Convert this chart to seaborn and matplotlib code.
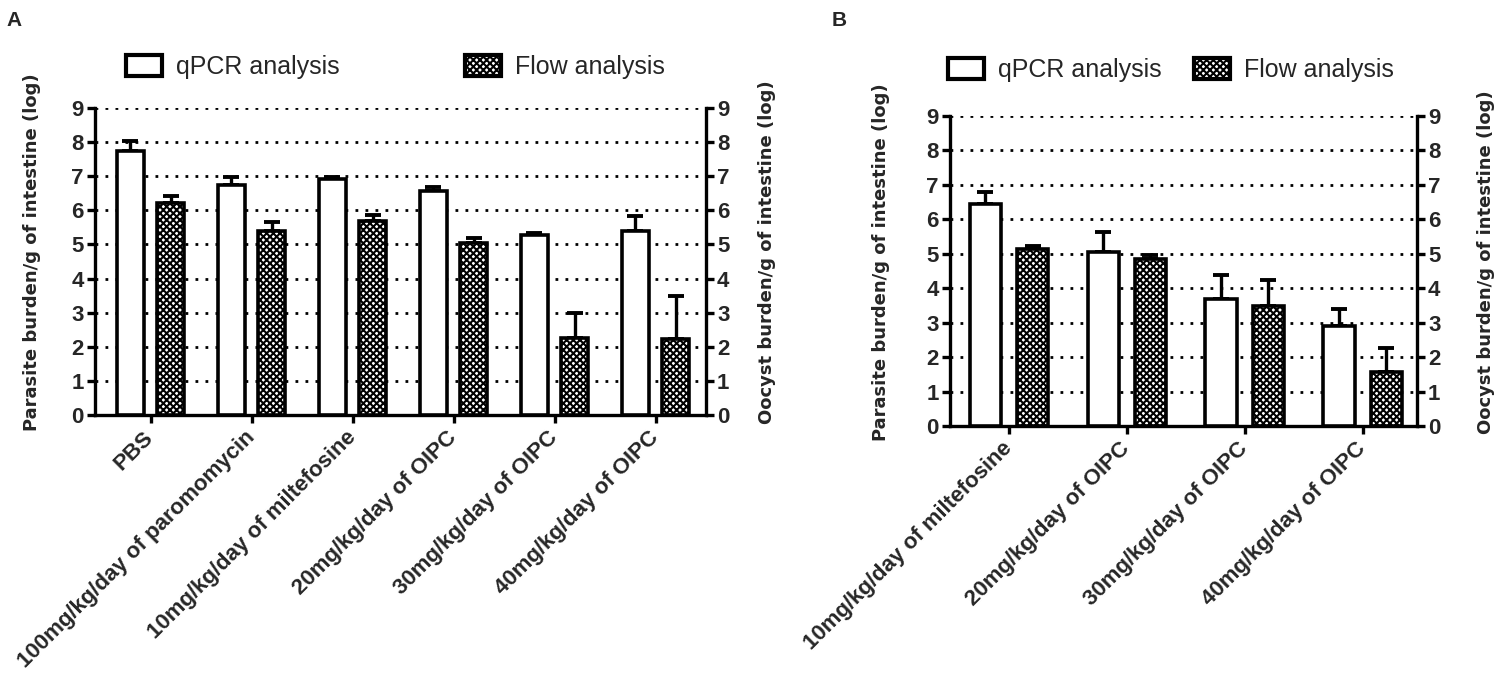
import numpy as np
import pandas as pd
import matplotlib
matplotlib.use("Agg")
import matplotlib.pyplot as plt
import seaborn as sns
from matplotlib.patches import Patch

sns.set_theme(style="white")
plt.rcParams['font.family'] = ['Liberation Sans', 'DejaVu Sans']
plt.rcParams['hatch.linewidth'] = 1.5

# ---------------- data ----------------
groups_a = ["PBS", "100mg/kg/day of paromomycin", "10mg/kg/day of miltefosine",
            "20mg/kg/day of OIPC", "30mg/kg/day of OIPC", "40mg/kg/day of OIPC"]
qpcr_a = [7.73, 6.73, 6.92, 6.58, 5.29, 5.39]
qpcr_a_err = [0.29, 0.25, 0.06, 0.09, 0.06, 0.43]
flow_a = [6.21, 5.40, 5.70, 5.04, 2.27, 2.23]
flow_a_err = [0.22, 0.26, 0.15, 0.15, 0.71, 1.27]

groups_b = ["10mg/kg/day of miltefosine", "20mg/kg/day of OIPC",
            "30mg/kg/day of OIPC", "40mg/kg/day of OIPC"]
qpcr_b = [6.45, 5.06, 3.70, 2.89]
qpcr_b_err = [0.35, 0.56, 0.69, 0.51]
flow_b = [5.15, 4.85, 3.47, 1.56]
flow_b_err = [0.09, 0.12, 0.76, 0.71]

methods = ["qPCR analysis", "Flow analysis"]
yticks = list(range(0, 10))
left_label = "Parasite burden/g of intestine (log)"
right_label = "Oocyst burden/g of intestine (log)"

W, H = 1500, 673
fig = plt.figure(figsize=(W / 100, H / 100), dpi=100)


def px_rect(x0, x1, ytop, ybot):
    return [x0 / W, (H - ybot) / H, (x1 - x0) / W, (ybot - ytop) / H]


def panel(rect, groups, qv, qe, fv, fe, xlim, lab_left_x, lab_right_x,
          leg_anchor, colspace, letter, letter_xy):
    ax = fig.add_axes(rect)
    df = pd.DataFrame({
        "group": groups * 2,
        "method": [methods[0]] * len(groups) + [methods[1]] * len(groups),
        "value": list(qv) + list(fv),
    })
    sns.barplot(data=df, x="group", y="value", hue="method", order=groups,
                hue_order=methods, errorbar=None, width=0.8, gap=0.33,
                legend=False, ax=ax, zorder=3)
    n = len(groups)
    xs, ys = [], []
    for i, p in enumerate(ax.patches):
        p.set_edgecolor("black")
        p.set_linewidth(2.6)
        p.set_facecolor("white")
        if i >= n:
            p.set_hatch("xxxxx")
        xs.append(p.get_x() + p.get_width() / 2)
        ys.append(p.get_height())
    errs = list(qe) + list(fe)
    ax.errorbar(xs, ys, yerr=[np.zeros(len(errs)), errs], fmt="none",
                ecolor="black", elinewidth=2.4, capsize=6, capthick=2.8,
                zorder=2)

    ax.set_ylim(0, 9)
    ax.set_xlim(*xlim)
    ax.set_yticks(yticks)
    ax.set_yticklabels([str(t) for t in yticks], fontsize=16, fontweight="bold")
    ax.set_xticks(range(n))
    ax.set_xticklabels(groups, rotation=45, ha="right", va="center",
                       rotation_mode="anchor", fontsize=16, fontweight="bold")
    ax.set_xlabel("")
    ax.set_ylabel(left_label, fontsize=13, fontweight="bold",
                  family="DejaVu Sans")
    ax.yaxis.set_label_coords(lab_left_x, 0.53)
    for s in ["left", "bottom"]:
        ax.spines[s].set_linewidth(2.4)
        ax.spines[s].set_color("black")
    ax.spines["top"].set_visible(False)
    ax.spines["right"].set_visible(False)
    ax.tick_params(axis="both", direction="out", length=6, width=2.4,
                   color="black", pad=2, bottom=True, left=True)
    ax.tick_params(axis="x", pad=8)
    for y in yticks[1:]:
        ax.axhline(y, color="black", linestyle=(0, (1, 2.6)), lw=2.0, zorder=1)

    ax2 = ax.twinx()
    ax2.set_ylim(0, 9)
    ax2.set_yticks(yticks)
    ax2.set_yticklabels([str(t) for t in yticks], fontsize=16, fontweight="bold")
    ax2.spines["right"].set_linewidth(2.4)
    ax2.spines["right"].set_color("black")
    for s in ["left", "top", "bottom"]:
        ax2.spines[s].set_visible(False)
    ax2.tick_params(axis="y", direction="out", length=6, width=2.4,
                    color="black", pad=2)
    ax2.set_ylabel(right_label, fontsize=13, fontweight="bold",
                   family="DejaVu Sans")
    ax2.yaxis.set_label_coords(lab_right_x, 0.53)

    handles = [Patch(facecolor="white", edgecolor="black", linewidth=3.0),
               Patch(facecolor="white", edgecolor="black", linewidth=3.0,
                     hatch="xxxxx")]
    fig.legend(handles, methods, loc="center left", bbox_to_anchor=leg_anchor,
               ncol=2, frameon=False,
               prop={"family": ["Liberation Sans Narrow", "Liberation Sans"],
                     "size": 18},
               handlelength=1.45, handleheight=0.9, handletextpad=0.55,
               columnspacing=colspace, borderpad=0, borderaxespad=0)
    fig.text(letter_xy[0] / W, 1 - letter_xy[1] / H, letter, fontsize=15,
             fontweight="bold", ha="left", va="center")
    return ax


panel(px_rect(95, 706, 108, 415), groups_a, qpcr_a, qpcr_a_err, flow_a,
      flow_a_err, (-0.55, 5.5), -0.088, 1.085, (126 / W, 1 - 67 / H), 5.0,
      "A", (6, 21))
panel(px_rect(950, 1417, 116, 426), groups_b, qpcr_b, qpcr_b_err, flow_b,
      flow_b_err, (-0.5, 3.46), -0.128, 1.128, (948 / W, 1 - 70 / H), 1.3,
      "B", (832, 21))

fig.savefig("out.png", dpi=100)
